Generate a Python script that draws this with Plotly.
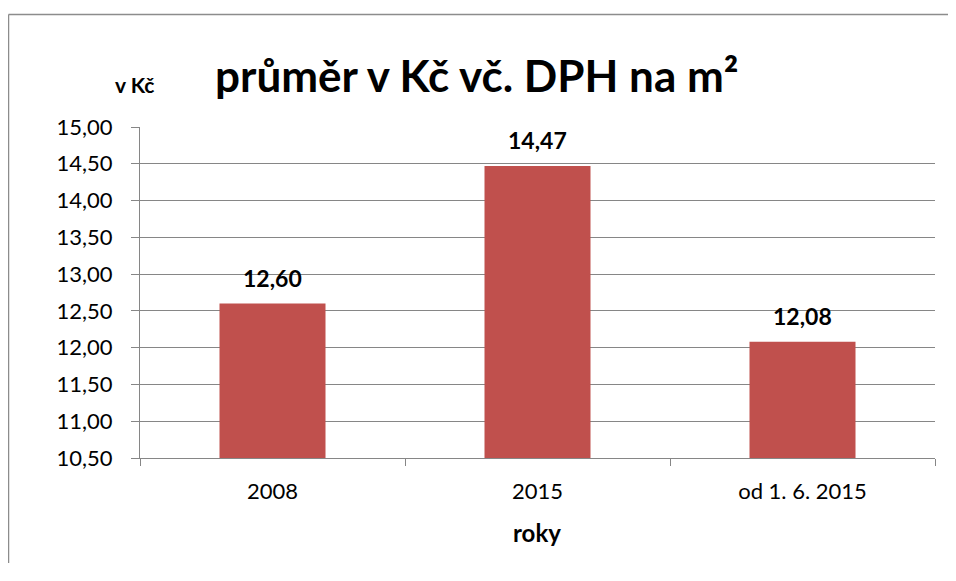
import plotly.graph_objects as go

categories = ["2008", "2015", "od 1. 6. 2015"]
values = [12.60, 14.47, 12.08]
y_ticks = [10.5, 11.0, 11.5, 12.0, 12.5, 13.0, 13.5, 14.0, 14.5, 15.0]

# The page body adds an 8px margin; keep the figure small enough that the
# page never needs scrollbars.
OFF = 8
W, H = 956 - 2 * OFF, 581 - 2 * OFF - 10
# plot area in page pixels: x 140..935, y 127..458
ml, mt = 140 - OFF, 127 - OFF
mr, mb = W - (935 - OFF), H - (458 - OFF)
pw, ph = W - ml - mr, H - mt - mb

def px_x(p):
    return (p - OFF - ml) / pw

def px_y(p):
    return 1 - (p - OFF - mt) / ph

FONT = "Lato"
GRID = "#868686"

fig = go.Figure()
fig.add_trace(go.Bar(
    x=categories, y=values, marker=dict(color="#C0504D", line=dict(width=0)),
    width=0.4, hoverinfo="skip"
))

for i, v in enumerate(values):
    fig.add_annotation(
        x=i, y=v, text="<b>" + f"{v:.2f}".replace(".", ",") + "</b>",
        showarrow=False, yshift=26, font=dict(family=FONT, size=23, color="#000000"),
        xref="x", yref="y"
    )

fig.add_annotation(
    x=px_x(477), y=px_y(75), xref="paper", yref="paper",
    text="<b>průměr v Kč vč. DPH na m²</b>", showarrow=False,
    font=dict(family=FONT, size=44, color="#000000"), xanchor="center", yanchor="middle"
)
fig.add_annotation(
    x=px_x(134), y=px_y(84), xref="paper", yref="paper",
    text="<b>v Kč</b>", showarrow=False,
    font=dict(family=FONT, size=21, color="#000000"), xanchor="center", yanchor="middle"
)
fig.add_annotation(
    x=px_x(537), y=px_y(532), xref="paper", yref="paper",
    text="<b>roky</b>", showarrow=False,
    font=dict(family=FONT, size=24, color="#000000"), xanchor="center", yanchor="middle"
)

# chart-area border: only the top and left edges fall inside the window
BORDER = dict(color="#8C8C8C", width=1.5)
fig.add_shape(type="line", xref="paper", yref="paper",
              x0=px_x(8.5), x1=px_x(OFF + W), y0=px_y(14.5), y1=px_y(14.5), line=BORDER)
fig.add_shape(type="line", xref="paper", yref="paper",
              x0=px_x(8.5), x1=px_x(8.5), y0=px_y(14.5), y1=px_y(OFF + H), line=BORDER)

fig.update_layout(
    width=W, height=H,
    margin=dict(l=ml, r=mr, t=mt, b=mb, autoexpand=False),
    paper_bgcolor="white", plot_bgcolor="white",
    separators=", ",
    showlegend=False,
    font=dict(family=FONT, size=20, color="#000000"),
)
fig.update_xaxes(
    type="category", range=[-0.5, 2.5], autorange=False,
    showgrid=False, showline=True, linecolor=GRID, linewidth=1,
    ticks="outside", tickson="boundaries", ticklen=7, tickcolor=GRID, tickwidth=1,
    tickfont=dict(family=FONT, size=22, color="#000000"), tickangle=0,
    ticklabelstandoff=14, automargin=False, fixedrange=True,
)
fig.update_yaxes(
    range=[10.5, 15.0], autorange=False, tickvals=y_ticks, tickformat=".2f",
    showgrid=True, gridcolor=GRID, gridwidth=1,
    showline=True, linecolor=GRID, linewidth=1,
    ticks="outside", ticklen=8, tickcolor=GRID, tickwidth=1,
    tickfont=dict(family=FONT, size=22, color="#000000"), zeroline=False,
    ticklabelstandoff=14, automargin=False, fixedrange=True,
)

fig.write_html("out.html")
